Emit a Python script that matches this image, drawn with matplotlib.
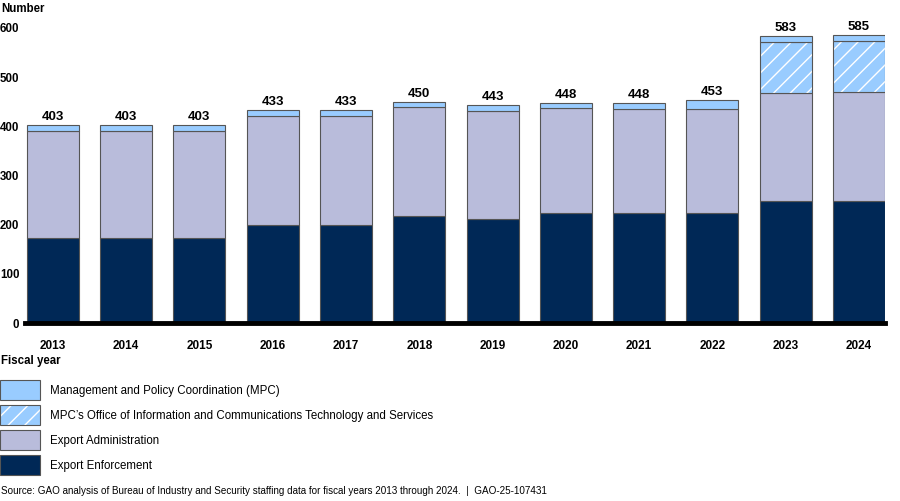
import matplotlib
matplotlib.use("Agg")
import matplotlib.pyplot as plt
from matplotlib.legend_handler import HandlerTuple
import numpy as np

plt.rcParams['font.family'] = ['Liberation Sans', 'DejaVu Sans']

years = ['2013', '2014', '2015', '2016', '2017', '2018', '2019', '2020', '2021', '2022', '2023', '2024']
enforcement = [172, 172, 172, 200, 200, 218, 212, 224, 224, 224, 249, 249]
administration = [218, 218, 218, 221, 221, 221, 219, 213, 211, 211, 218, 220]
oicts = [0, 0, 0, 0, 0, 0, 0, 0, 0, 0, 104, 104]
mpc = [13, 13, 13, 12, 12, 11, 12, 11, 13, 18, 12, 12]
totals = [403, 403, 403, 433, 433, 450, 443, 448, 448, 453, 583, 585]

labels = ['Management and Policy Coordination (MPC)',
          "MPC\u2019s Office of Information and Communications Technology and Services",
          'Export Administration',
          'Export Enforcement']

c_enf = '#002856'
c_adm = '#B9BCDB'
c_mpc = '#99CCFF'
edge = '#555555'

W, H = 900, 501
fig = plt.figure(figsize=(W/100, H/100), dpi=100)
ax = fig.add_axes([25/W, (H-323)/H, 860/W, (323-28)/H])

x = np.arange(len(years))
bw = 0.71
enf = np.array(enforcement)
adm = np.array(administration)
oic = np.array(oicts)
mp = np.array(mpc)

b_enf = ax.bar(x, enf, bw, color=c_enf, edgecolor=edge, linewidth=0.8)
b_adm = ax.bar(x, adm, bw, bottom=enf, color=c_adm, edgecolor=edge, linewidth=0.8)
mask = oic > 0
b_oic_h = ax.bar(x[mask], oic[mask], bw, bottom=(enf+adm)[mask], color=c_mpc,
                 edgecolor='white', linewidth=0, hatch='//')
b_oic_e = ax.bar(x[mask], oic[mask], bw, bottom=(enf+adm)[mask], fill=False,
                 edgecolor=edge, linewidth=0.8)
b_mpc = ax.bar(x, mp, bw, bottom=enf+adm+oic, color=c_mpc, edgecolor=edge, linewidth=0.8)

for xi, t, top in zip(x, totals, enf+adm+oic+mp):
    ax.text(xi, top + 4, str(t), ha='center', va='bottom', fontsize=9.5,
            fontweight='bold', clip_on=False)

ax.set_xlim(-0.38, 11.355)
ax.set_ylim(0, 600)
ax.axhline(0, color='black', linewidth=3.5, zorder=5, clip_on=False)
for s in ax.spines.values():
    s.set_visible(False)
ax.set_yticks(range(0, 601, 100))
ax.set_yticklabels([str(v) for v in range(0, 601, 100)], fontsize=8.3, fontweight='bold')
ax.set_xticks(x)
ax.set_xticklabels(years, fontsize=8.5, fontweight='bold')
ax.tick_params(axis='both', length=0)
ax.tick_params(axis='y', pad=4)
ax.tick_params(axis='x', pad=12)

fig.text(1/W, 1 - 9/H, 'Number', fontsize=8.3, fontweight='bold', ha='left', va='center')
fig.text(1/W, 1 - 361/H, 'Fiscal year', fontsize=8.3, fontweight='bold', ha='left', va='center')

handles = [b_mpc[0], (b_oic_h[0], b_oic_e[0]), b_adm[0], b_enf[0]]
fs = 8.3
hpt = 20 * 0.72  # handle height in points
h_units = (hpt / fs - 0.245) / 0.65
leg = fig.legend(handles, labels, loc='upper left', bbox_to_anchor=(0, 1 - 380/H),
                 frameon=False, fontsize=fs, handlelength=40*0.72/fs,
                 handleheight=h_units, labelspacing=5*0.72/fs,
                 handletextpad=10*0.72/fs, borderpad=0, borderaxespad=0,
                 handler_map={tuple: HandlerTuple(ndivide=1, pad=0)})

fig.text(1/W, 1 - 491/H,
         'Source: GAO analysis of Bureau of Industry and Security staffing data for fiscal years 2013 through 2024.  |  GAO-25-107431',
         fontsize=7.1, ha='left', va='center')

fig.savefig('out.png', dpi=100)
